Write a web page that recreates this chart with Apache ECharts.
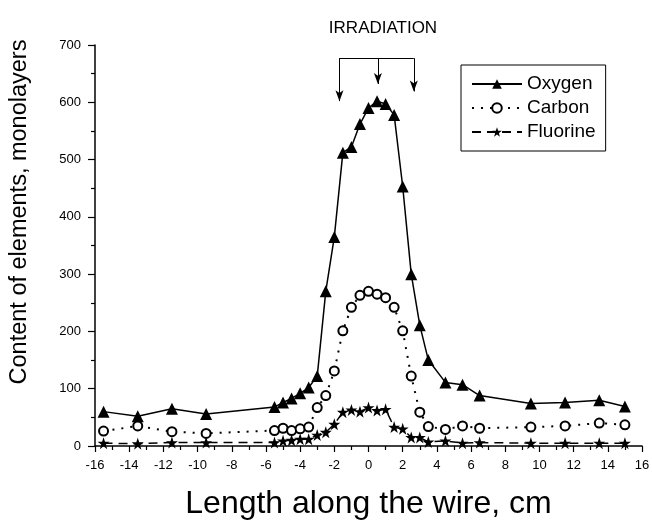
<!DOCTYPE html>
<html>
<head>
<meta charset="utf-8">
<style>
  html, body { margin: 0; padding: 0; background: #fff; }
  #chart { width: 652px; height: 524px; }
</style>
<script src="https://cdn.jsdelivr.net/npm/echarts@6/dist/echarts.min.js"></script>
</head>
<body>
<div id="chart"></div>
<script>
// positions along the wire, cm
const positions = [-15.5, -13.5, -11.5, -9.5, -5.5, -5, -4.5, -4, -3.5, -3, -2.5, -2, -1.5, -1, -0.5,
  0, 0.5, 1, 1.5, 2, 2.5, 3, 3.5, 4.5, 5.5, 6.5, 9.5, 11.5, 13.5, 15];
const oxygen = [60, 52, 65, 56, 68, 76, 83, 92, 102, 122, 270, 365, 512, 522, 562,
  590, 602, 597, 578, 453, 300, 211, 150, 111, 107, 88, 74, 76, 80, 69];
const carbon = [26, 35, 25, 22, 27, 31, 27, 30, 33, 67, 88, 131, 201, 242, 263,
  270, 265, 259, 242, 201, 122, 59, 34, 29, 35, 31, 33, 35, 40, 37];
const fluorine = [5, 4, 6, 6, 6, 9, 10, 12, 12, 19, 24, 38, 59, 63, 60,
  67, 62, 64, 33, 30, 15, 15, 7, 9, 5, 6, 5, 5, 5, 5];

// irradiation bracket: arrow x positions, top level and arrow tips
const arrowX = [-1.7, 0.55, 2.65];
const arrowTop = 677;
const arrowTips = [602, 632, 619];

const font = "'Liberation Sans', Arial, sans-serif";
const pairs = (ys) => positions.map((x, i) => [x, ys[i]]);

const chart = echarts.init(document.getElementById("chart"));

const arrowLines = [
  [{ coord: [arrowX[0], arrowTop], symbol: "none" }, { coord: [arrowX[2], arrowTop], symbol: "none" }],
].concat(arrowX.map((x, i) => [
  { coord: [x, arrowTop], symbol: "none" },
  { coord: [x, arrowTips[i]], symbol: "arrow" },
]));

chart.setOption({
  animation: false,
  textStyle: { fontFamily: font },
  grid: { left: 95, right: 10, top: 45, bottom: 78, outerBoundsMode: "none", containLabel: false },
  xAxis: {
    type: "value",
    min: -16,
    max: 16,
    interval: 2,
    name: "Length along the wire, cm",
    nameLocation: "middle",
    nameGap: 42,
    nameTextStyle: { fontSize: 32, color: "#000", fontFamily: font },
    axisLine: { onZero: false, lineStyle: { color: "#000", width: 1.5 } },
    axisTick: { inside: false, length: 6, lineStyle: { color: "#000", width: 1.2 } },
    minorTick: { show: true, splitNumber: 2, length: 4, lineStyle: { color: "#000", width: 1.2 } },
    axisLabel: { color: "#000", fontSize: 13, margin: 13, fontFamily: font },
    splitLine: { show: false },
  },
  yAxis: {
    type: "value",
    min: 0,
    max: 700,
    interval: 100,
    axisLine: { show: true, onZero: false, lineStyle: { color: "#000", width: 1.5 } },
    axisTick: { show: true, length: 7, lineStyle: { color: "#000", width: 1.2 } },
    minorTick: { show: true, splitNumber: 2, length: 4, lineStyle: { color: "#000", width: 1.2 } },
    axisLabel: { color: "#000", fontSize: 13, margin: 14, fontFamily: font },
    splitLine: { show: false },
  },
  legend: {
    orient: "vertical",
    left: 461,
    top: 65,
    width: 150,
    padding: [9, 10, 9, 10],
    borderColor: "#000",
    borderWidth: 1,
    itemWidth: 50,
    itemHeight: 12,
    itemGap: 4,
    textStyle: { fontSize: 19, lineHeight: 20, color: "#000", fontFamily: font },
    data: ["Oxygen", "Carbon", "Fluorine"],
  },
  graphic: [
    {
      type: "text",
      x: 20,
      y: 212,
      rotation: Math.PI / 2,
      style: {
        text: "Content of elements, monolayers",
        fontSize: 23.5,
        fontFamily: font,
        fill: "#000",
        align: "center",
        verticalAlign: "middle",
      },
    },
    {
      type: "text",
      x: 383,
      y: 28,
      style: {
        text: "IRRADIATION",
        fontSize: 17,
        fontFamily: font,
        fill: "#000",
        align: "center",
        verticalAlign: "middle",
      },
    },
  ],
  series: [
    {
      name: "Oxygen",
      type: "line",
      data: pairs(oxygen),
      symbol: "triangle",
      symbolSize: 12,
      itemStyle: { color: "#000" },
      lineStyle: { color: "#000", width: 1.5 },
      markLine: {
        silent: true,
        symbolSize: [6, 11],
        label: { show: false },
        lineStyle: { color: "#000", width: 1, type: "solid" },
        data: arrowLines,
      },
    },
    {
      name: "Carbon",
      type: "line",
      data: pairs(carbon),
      symbol: "emptyCircle",
      symbolSize: 9,
      itemStyle: { color: "#000", borderColor: "#000", borderWidth: 1 },
      lineStyle: { color: "#000", width: 2, type: [2, 7] },
    },
    {
      name: "Fluorine",
      type: "line",
      data: pairs(fluorine),
      symbol: "path://M50,0 L61.8,35.3 L98.5,35.3 L68.8,57.3 L79.9,92.7 L50,70.8 L20.1,92.7 L31.2,57.3 L1.5,35.3 L38.2,35.3 Z",
      symbolSize: 12,
      itemStyle: { color: "#000" },
      lineStyle: { color: "#000", width: 1.5, type: [9, 6] },
    },
  ],
});
</script>
</body>
</html>
